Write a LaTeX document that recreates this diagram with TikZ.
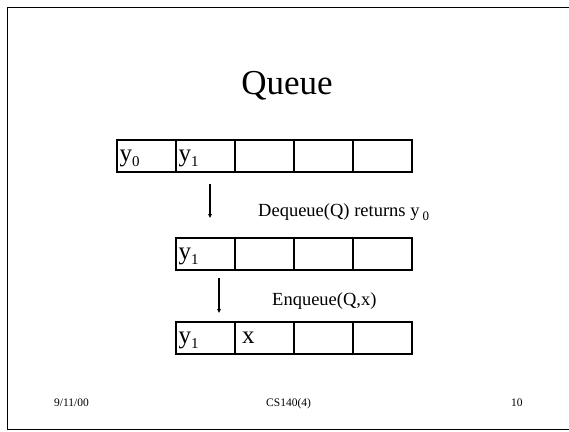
\documentclass[tikz,border=0pt]{standalone}
\usepackage{fontspec}
\setmainfont{Liberation Serif}
\usetikzlibrary{arrows.meta}
\begin{document}
\begin{tikzpicture}[x=1pt,y=-1pt,
  cell/.style={draw,line width=1.6pt,minimum width=59pt,minimum height=32pt,inner sep=0pt,outer sep=0pt,anchor=north west},
  lbl/.style={anchor=base west,inner sep=0pt,font=\fontsize{25}{25}\selectfont},
  captxt/.style={anchor=base west,inner sep=0pt,font=\fontsize{18.5}{18.5}\selectfont},
  foot/.style={anchor=base west,inner sep=0pt,font=\fontsize{11.5}{11.5}\selectfont},
  arr/.style={-{Triangle[length=4pt,width=3.5pt]},line width=1.5pt}]
\useasboundingbox (0,0) rectangle (569,431);
\draw[line width=1.5pt] (600,7.5) -- (7.5,7.5) -- (7.5,429.5) -- (600,429.5);
\node[anchor=base,inner sep=0pt,font=\fontsize{35}{35}\selectfont] (title) at (287,94) {Queue};
% row 1
\foreach \i/\x in {1/117,2/176,3/235,4/294,5/353}{
  \node[cell] (a\i) at (\x,140) {};
}
% rows 2 and 3
\foreach \i/\x in {1/176,2/235,3/294,4/353}{
  \node[cell] (b\i) at (\x,238) {};
  \node[cell] (c\i) at (\x,322) {};
}
\newcommand{\subs}[1]{\raisebox{-5pt}{\fontsize{15}{15}\selectfont #1}}
\node[lbl] (la1) at (119.5,161) {y\subs{0}};
\node[lbl] (la2) at (178.5,161) {y\subs{1}};
\node[lbl] (lb1) at (178.5,259) {y\subs{1}};
\node[lbl] (lc1) at (178.5,343) {y\subs{1}};
\node[lbl] (lc2) at (242,343) {x};
\coordinate (s1) at (210,184);
\coordinate (e1) at (210,218);
\coordinate (s2) at (219,278);
\coordinate (e2) at (219,313);
\draw[arr] (s1) -- (e1);
\draw[arr] (s2) -- (e2);
\node[captxt] (deq) at (258,216) {Dequeue(Q) returns y\,\raisebox{-4pt}{\fontsize{13}{13}\selectfont 0}};
\node[captxt] (enq) at (272,305) {Enqueue(Q,x)};
\node[foot] (f1) at (54,406) {9/11/00};
\node[foot] (f2) at (266,406) {CS140(4)};
\node[foot] (f3) at (511,406) {10};
\end{tikzpicture}
\end{document}
